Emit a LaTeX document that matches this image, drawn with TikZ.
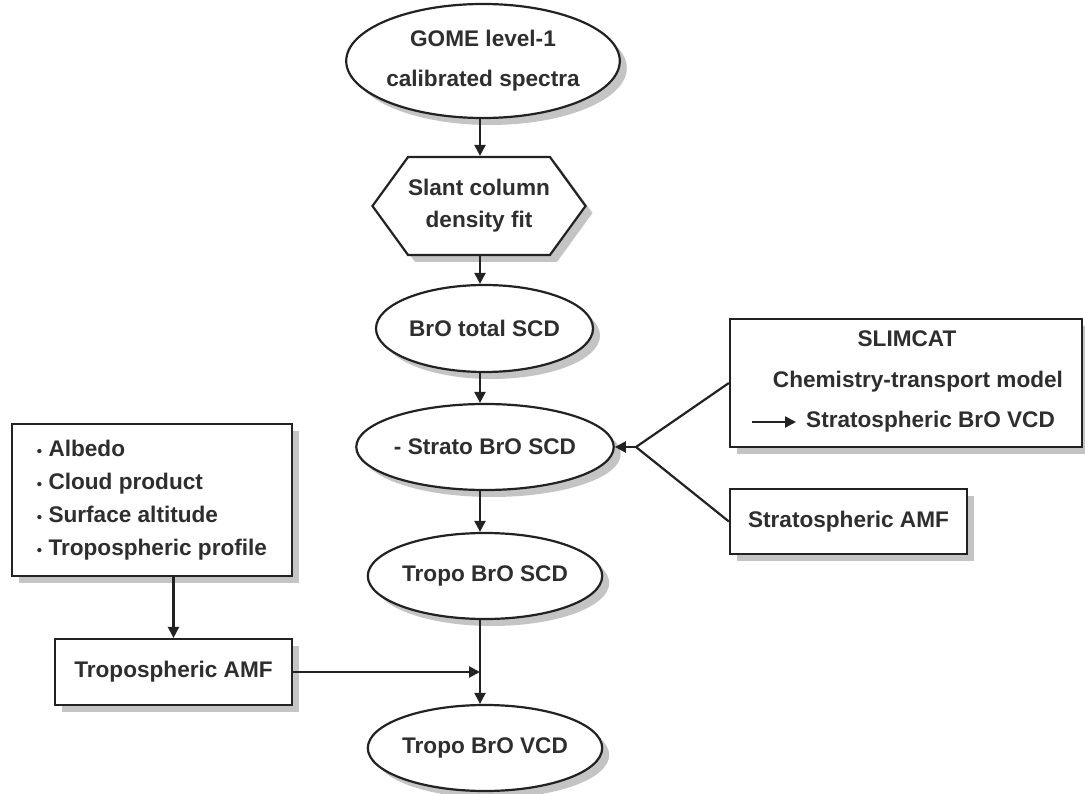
\documentclass[tikz,border=0pt]{standalone}
\usepackage{fontspec}
\setmainfont{Liberation Sans}
\usetikzlibrary{shapes.geometric,shapes.symbols,arrows.meta,shadows}
\definecolor{ink}{HTML}{222222}
\definecolor{txt}{HTML}{2E2E2E}
\definecolor{shade}{HTML}{C4C4C4}
\newcommand{\smbul}{{\fontsize{15}{15}\selectfont\textbullet}\ }
\tikzset{
  base/.style={draw=ink, line width=2.2pt, fill=white, text=txt, inner sep=0pt,
    font=\bfseries\fontsize{22.6}{40}\selectfont, align=center,
    drop shadow={shadow xshift=7pt, shadow yshift=-7pt, fill=shade, opacity=1}},
  oval/.style={base, ellipse, minimum width=216pt, minimum height=86pt},
  hexa/.style={base, signal, signal to=east and west, signal pointer angle=108,
    minimum width=203pt, minimum height=98pt, font=\bfseries\fontsize{22.6}{32}\selectfont},
  boxx/.style={base, rectangle},
  lbl/.style={text=txt, inner sep=0pt, font=\bfseries\fontsize{22.6}{26}\selectfont},
  conn/.style={draw=ink, line width=2.2pt},
  arr/.style={conn, -{Triangle[length=11pt,width=11pt]}}
}
\begin{document}
\begin{tikzpicture}[x=1pt,y=-1pt]
\useasboundingbox (0,0) rectangle (1085,794);
\coordinate (axis) at (480,0);
% main column
\node[oval, minimum width=258pt, minimum height=114pt] (gome) at (483,61) {GOME level-1\\calibrated spectra};
\node[hexa] (hex) at (479,206) {Slant column\\density fit};
\node[oval, minimum width=217pt, minimum height=87pt] (tot) at (484.5,328.5) {BrO total SCD};
\node[oval] (strato) at (485,447) {- Strato BrO SCD};
\node[oval] (tscd) at (485,576) {Tropo BrO SCD};
\node[oval] (tvcd) at (485,748) {Tropo BrO VCD};
% right side
\node[boxx, minimum width=352pt, minimum height=128pt] (slim) at (906,383) {};
\node[lbl] (slimt) at (907,339) {SLIMCAT};
\node[lbl] (ctm) at (918,382) {Chemistry-transport model};
\node[lbl, anchor=west] (svcd) at (806,422) {Stratospheric BrO VCD};
\coordinate (sarr) at (752,422);
\node[boxx, minimum width=237pt, minimum height=65pt] (samf) at (848.5,521.5) {Stratospheric AMF};
\coordinate (br) at (636,447);
% left side
\node[boxx, minimum width=280pt, minimum height=152pt, align=left,
  font=\bfseries\fontsize{22.6}{33}\selectfont] (inp) at (152,500)
  {\smbul Albedo\\ \smbul Cloud product\\ \smbul Surface altitude\\ \smbul Tropospheric profile};
\node[boxx, minimum width=237pt, minimum height=66pt] (tamf) at (173.5,672) {Tropospheric AMF};
\coordinate (join) at (480,672);
% connectors
\draw[arr] (gome.south -| axis) -- (hex.north -| axis);
\draw[arr] (hex.south -| axis) -- (tot.north -| axis);
\draw[arr] (tot.south -| axis) -- (strato.north -| axis);
\draw[arr] (strato.south -| axis) -- (tscd.north -| axis);
\draw[arr] (tscd.south -| axis) -- (tvcd.north -| axis);
\draw[arr] (tamf.east) -- (join);
\draw[arr] (inp.south -| tamf.north) -- (tamf.north);
\draw[conn] (slim.west) -- (br) -- (samf.west);
\draw[arr] (br) -- (strato.east);
\draw[arr] (sarr) -- ([xshift=-10pt]svcd.west);
\end{tikzpicture}
\end{document}
